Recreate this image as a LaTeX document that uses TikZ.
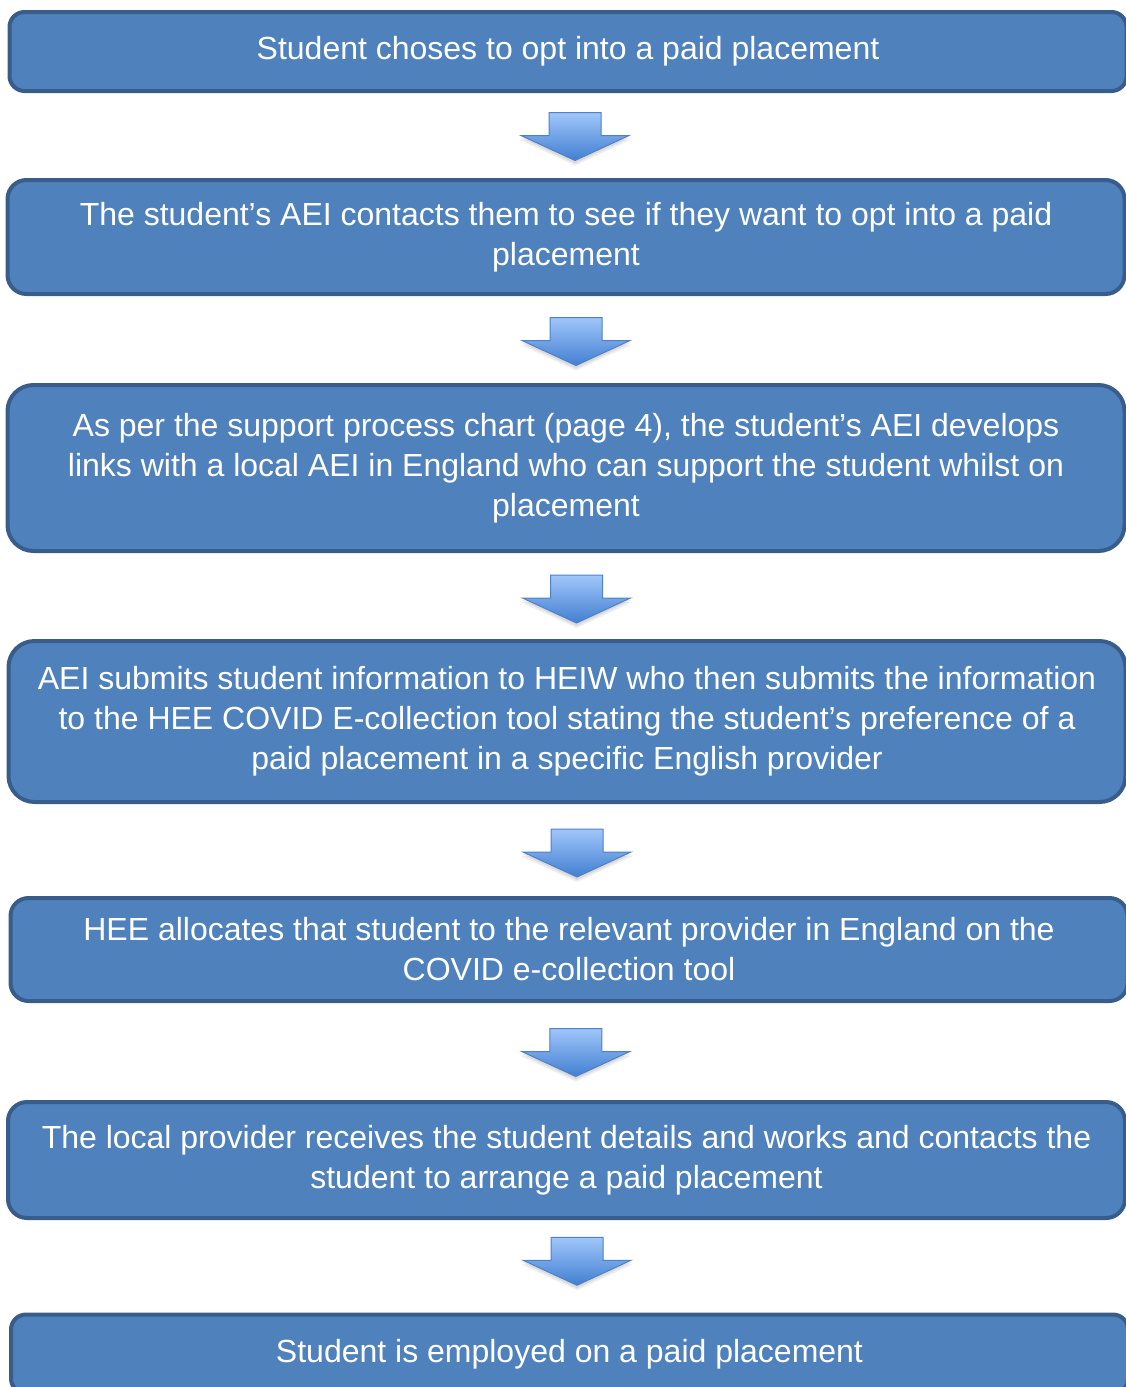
\documentclass[tikz,border=0pt]{standalone}
\usepackage{fontspec}
\setmainfont{Liberation Sans}
\usetikzlibrary{calc}

\definecolor{boxfill}{RGB}{79,129,189}
\definecolor{boxline}{RGB}{56,93,138}
\definecolor{arrowtop}{RGB}{160,198,250}
\definecolor{arrowbottom}{RGB}{66,127,209}
\definecolor{arrowline}{RGB}{79,129,200}

\begin{document}
\begin{tikzpicture}[
            x=1pt, y=-1pt,
            stepbox/.style={rectangle, draw=boxline, fill=boxfill, line width=4pt, rounded corners=#1,
                minimum width=1117pt, inner sep=0pt, align=center, text=white,
                font=\fontsize{32}{40}\selectfont},
            stepbox/.default=15pt,
            downarrow/.pic={
                \fill[black, opacity=0.07] (-26,-20) -- (26,-20) -- (26,3) -- (56,3) -- (0,29) -- (-56,3) -- (-26,3) -- cycle;
                \fill[black, opacity=0.08] (-26,-22) -- (26,-22) -- (26,1) -- (55,1) -- (0,27) -- (-55,1) -- (-26,1) -- cycle;
                \draw[arrowline, line width=1pt, top color=arrowtop, bottom color=arrowbottom]
                    (-26,-24) -- (26,-24) -- (26,-1) -- (54,-1) -- (0,24) -- (-54,-1) -- (-26,-1) -- cycle;
            }
        ]
        \useasboundingbox (0,0) rectangle (1126,1387);

        % Steps
        \node[stepbox, minimum height=79pt] (b1) at (568,51.5) {Student choses to opt into a paid placement};
        \node[stepbox=19pt, minimum height=114pt] (b2) at (566,237) {The student’s AEI contacts them to see if they want to opt into a paid\\placement};
        \node[stepbox=26pt, minimum height=166pt] (b3) at (566,468) {As per the support process chart (page 4), the student’s AEI develops\\links with a local AEI in England who can support the student whilst on\\placement};
        \node[stepbox=26pt, minimum height=161pt] (b4) at (567,721.5) {AEI submits student information to HEIW who then submits the information\\to the HEE COVID E-collection tool stating the student’s preference of a\\paid placement in a specific English provider};
        \node[stepbox=18pt, minimum height=103pt] (b5) at (569,949.5) {HEE allocates that student to the relevant provider in England on the\\COVID e-collection tool};
        \node[stepbox=19pt, minimum height=116pt] (b6) at (566.5,1160) {The local provider receives the student details and works and contacts the\\student to arrange a paid placement};
        \node[stepbox, minimum height=79pt] (b7) at (569.5,1354) {Student is employed on a paid placement};

        % Arrows
        \pic at ($(b1.south)!.5!(b2.north)+(8,1)$) {downarrow};
        \pic at ($(b2.south)!.5!(b3.north)+(10,2)$) {downarrow};
        \pic at ($(b3.south)!.5!(b4.north)+(10,3)$) {downarrow};
        \pic at ($(b4.south)!.5!(b5.north)+(9,3)$) {downarrow};
        \pic at ($(b5.south)!.5!(b6.north)+(8,1)$) {downarrow};
        \pic at ($(b6.south)!.5!(b7.north)+(9,-5)$) {downarrow};

    \end{tikzpicture}
\end{document}
